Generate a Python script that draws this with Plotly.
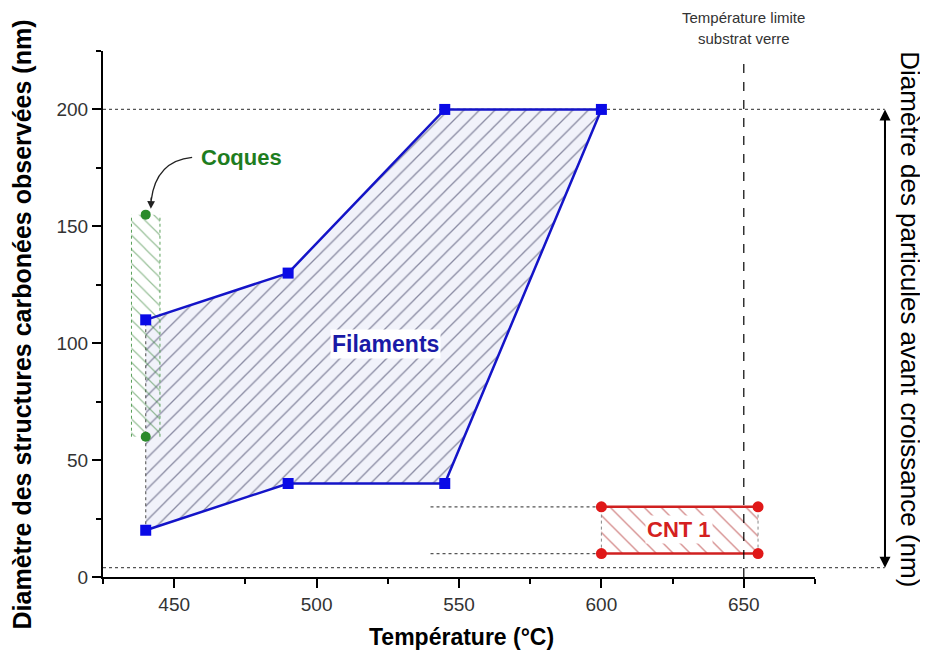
import plotly.graph_objects as go

# ---- data ----
fil_T = [440, 490, 545, 600, 545, 490, 440]
fil_D = [110, 130, 200, 200, 40, 40, 20]

coques_T = [440, 440]
coques_D = [155, 60]
coques_band = [435, 445]

cnt_T = [600, 655]
cnt_top = [30, 30]
cnt_bot = [10, 10]
cnt_ref_start = 540

particle_range = [4, 200]
limit_T = 650

x_ticks = [450, 500, 550, 600, 650]
y_ticks = [0, 50, 100, 150, 200]

FONT = "Liberation Sans, Arial, sans-serif"
BLUE = "#1414c8"
GREEN = "#2a8a2a"
RED = "#e01818"

fig = go.Figure()

# blue hatched region (Filaments)
fig.add_trace(go.Scatter(
    x=fil_T, y=fil_D, mode="none", fill="toself",
    fillpattern=dict(shape="/", fgcolor="#22224a", bgcolor="#f1f2fa", size=11, solidity=0.12),
    hoverinfo="skip", showlegend=False))
# left edge dotted
fig.add_trace(go.Scatter(
    x=[fil_T[-1], fil_T[0]], y=[fil_D[-1], fil_D[0]], mode="lines",
    line=dict(color="#666666", width=1.2, dash="dot"), showlegend=False, hoverinfo="skip"))

# green hatched band (Coques)
fig.add_trace(go.Scatter(
    x=[coques_band[0], coques_band[1], coques_band[1], coques_band[0]],
    y=[coques_D[1], coques_D[1], coques_D[0], coques_D[0]],
    mode="none", fill="toself",
    fillpattern=dict(shape="\\", fgcolor="#2f7f2f", bgcolor="rgba(0,0,0,0)", size=10, solidity=0.12),
    hoverinfo="skip", showlegend=False))
for xb in coques_band:
    fig.add_trace(go.Scatter(
        x=[xb, xb], y=[coques_D[1], coques_D[0]], mode="lines",
        line=dict(color="#5aa05a", width=1, dash="dot"), showlegend=False, hoverinfo="skip"))

# red hatched band (CNT 1)
fig.add_trace(go.Scatter(
    x=[cnt_T[0], cnt_T[1], cnt_T[1], cnt_T[0]],
    y=[cnt_bot[0], cnt_bot[1], cnt_top[1], cnt_top[0]],
    mode="none", fill="toself",
    fillpattern=dict(shape="\\", fgcolor="#b02828", bgcolor="white", size=12, solidity=0.12),
    hoverinfo="skip", showlegend=False))
for xb in cnt_T:
    fig.add_trace(go.Scatter(
        x=[xb, xb], y=[cnt_bot[0], cnt_top[0]], mode="lines",
        line=dict(color="#888888", width=1, dash="dot"), showlegend=False, hoverinfo="skip"))

# blue outline + squares
fig.add_trace(go.Scatter(
    x=fil_T, y=fil_D, mode="lines+markers",
    line=dict(color=BLUE, width=2.5),
    marker=dict(symbol="square", size=11, color="#0a0ae6"),
    showlegend=False))

# green points
fig.add_trace(go.Scatter(
    x=coques_T, y=coques_D, mode="markers",
    marker=dict(symbol="circle", size=10, color=GREEN), showlegend=False))

# red lines + points
fig.add_trace(go.Scatter(x=cnt_T, y=cnt_top, mode="lines+markers",
    line=dict(color="#d02020", width=2.5),
    marker=dict(size=11, color=RED), showlegend=False))
fig.add_trace(go.Scatter(x=cnt_T, y=cnt_bot, mode="lines+markers",
    line=dict(color="#d02020", width=2.5),
    marker=dict(size=11, color=RED), showlegend=False))

shapes = []
# particle range reference lines extending to right arrow
for yv in particle_range:
    shapes.append(dict(type="line", xref="paper", yref="y", x0=0, x1=1.098, y0=yv, y1=yv,
                       line=dict(color="#555555", width=1.2, dash="dot"), layer="below"))
# shaft of the double arrow on the right
shapes.append(dict(type="line", xref="paper", yref="y", x0=1.0983, x1=1.0983,
                   y0=particle_range[0] + 4, y1=particle_range[1] - 4,
                   line=dict(color="black", width=2)))
# CNT reference dotted lines
for yv in [cnt_top[0], cnt_bot[0]]:
    shapes.append(dict(type="line", xref="x", yref="y", x0=cnt_ref_start, x1=cnt_T[0], y0=yv, y1=yv,
                       line=dict(color="#555555", width=1.2, dash="dot"), layer="below"))
# glass substrate limit
shapes.append(dict(type="line", xref="x", yref="y", x0=limit_T, x1=limit_T, y0=0, y1=222,
                   line=dict(color="black", width=1.2, dash="dash")))
# curved arrow to Coques
shapes.append(dict(type="path", xref="x", yref="y",
                   path="M 456.3,179.5 Q 443.6,178 441.9,161",
                   line=dict(color="#222222", width=1.3)))

annotations = [
    dict(x=441.8, y=157.5, ax=441.95, ay=163, xref="x", yref="y", axref="x", ayref="y",
         showarrow=True, arrowhead=2, arrowsize=1.2, arrowwidth=1.3, arrowcolor="#222222", text=""),
    dict(x=473.5, y=179.5, xref="x", yref="y", text="<b>Coques</b>", showarrow=False,
         xanchor="center", yanchor="middle",
         font=dict(family=FONT, size=22, color="#1e7d1e")),
    dict(x=524.2, y=99.5, xref="x", yref="y", text="<b>Filaments</b>", showarrow=False,
         xanchor="center", yanchor="middle",
         bgcolor="white", font=dict(family=FONT, size=23, color="#1a1aa6")),
    dict(x=627.2, y=20.2, xref="x", yref="y", text="<b>CNT 1</b>", showarrow=False,
         xanchor="center", yanchor="middle",
         bgcolor="white", font=dict(family=FONT, size=22, color="#d42020")),
    dict(x=limit_T, y=1.0646, xref="x", yref="paper", text="Température limite",
         xanchor="center", yanchor="middle",
         showarrow=False, font=dict(family=FONT, size=15, color="#333333")),
    dict(x=limit_T, y=1.0247, xref="x", yref="paper", text="substrat verre",
         xanchor="center", yanchor="middle",
         showarrow=False, font=dict(family=FONT, size=15, color="#333333")),
    # arrow heads of the double arrow on the right
    dict(x=1.0983, y=particle_range[1], xref="paper", yref="y", ax=0, ay=30,
         showarrow=True, arrowhead=2, arrowsize=1.1, arrowwidth=2, arrowcolor="black", text=""),
    dict(x=1.0983, y=particle_range[0], xref="paper", yref="y", ax=0, ay=-30,
         showarrow=True, arrowhead=2, arrowsize=1.1, arrowwidth=2, arrowcolor="black", text=""),
    # axis titles
    dict(x=-0.1138, y=0.48, xref="paper", yref="paper", textangle=-90, showarrow=False,
         xanchor="center", yanchor="middle",
         text="<b>Diamètre des structures carbonées observées (nm)</b>",
         font=dict(family=FONT, size=25, color="black")),
    dict(x=1.1334, y=0.49, xref="paper", yref="paper", textangle=90, showarrow=False,
         xanchor="center", yanchor="middle",
         text="Diamètre des particules avant croissance (nm)",
         font=dict(family=FONT, size=26, color="black")),
    dict(x=0.504, y=-0.114, xref="paper", yref="paper", showarrow=False,
         xanchor="center", yanchor="middle",
         text="<b>Température (°C)</b>",
         font=dict(family=FONT, size=23, color="black")),
]

# the page body adds an 8px offset; margins compensate so the plot area sits
# at x 103..815, y 51..577 in the window
fig.update_layout(
    width=920, height=651,
    margin=dict(l=95, r=113, t=43, b=82),
    paper_bgcolor="white", plot_bgcolor="white",
    shapes=shapes, annotations=annotations,
    font=dict(family=FONT),
)
fig.update_xaxes(
    range=[425, 675], tickvals=x_ticks, ticks="outside", ticklen=9, tickwidth=2,
    tickcolor="black", showline=True, linecolor="black", linewidth=2, showgrid=False,
    zeroline=False, tickfont=dict(family=FONT, size=19, color="#333333"),
    minor=dict(ticks="outside", ticklen=5, tickwidth=2, tickcolor="black", dtick=25, tick0=0, showgrid=False),
)
fig.update_yaxes(
    range=[0, 225], tickvals=y_ticks, ticks="outside", ticklen=9, tickwidth=2,
    tickcolor="black", showline=True, linecolor="black", linewidth=2, showgrid=False,
    zeroline=False, tickfont=dict(family=FONT, size=19, color="#333333"),
    minor=dict(ticks="outside", ticklen=5, tickwidth=2, tickcolor="black", dtick=25, tick0=0, showgrid=False),
)

fig.write_html("out.html")
